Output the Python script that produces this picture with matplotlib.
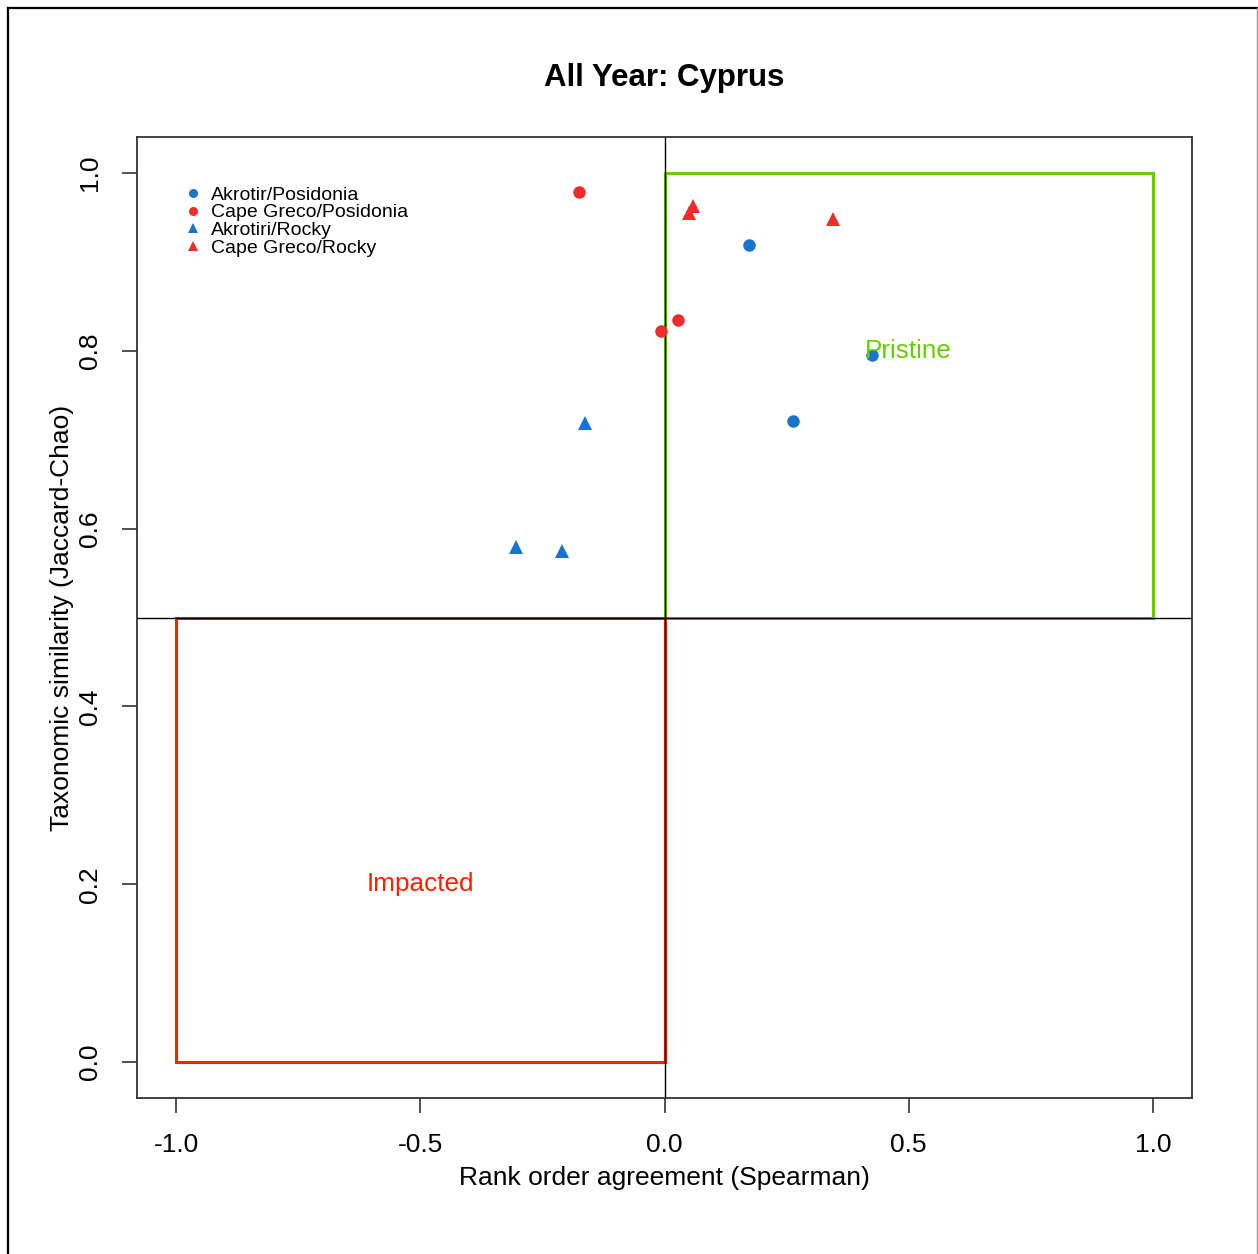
import numpy as np
import matplotlib
matplotlib.use("Agg")
import matplotlib.pyplot as plt
from matplotlib.lines import Line2D
from matplotlib.patches import Rectangle

plt.rcParams['font.family'] = ['Liberation Sans', 'DejaVu Sans']

# data
groups = ['Akrotir/Posidonia', 'Cape Greco/Posidonia', 'Akrotiri/Rocky', 'Cape Greco/Rocky']
group_colors = ['#1874CD', '#EE2C2C', '#1874CD', '#EE2C2C']
group_markers = ['o', 'o', '^', '^']

akrotir_pos_x = [0.173, 0.425, 0.263]
akrotir_pos_y = [0.919, 0.795, 0.721]
greco_pos_x = [-0.175, -0.007, 0.028]
greco_pos_y = [0.979, 0.822, 0.835]
akrotiri_rock_x = [-0.163, -0.304, -0.210]
akrotiri_rock_y = [0.719, 0.579, 0.575]
greco_rock_x = [0.058, 0.050, 0.345]
greco_rock_y = [0.963, 0.955, 0.948]

xs = [akrotir_pos_x, greco_pos_x, akrotiri_rock_x, greco_rock_x]
ys = [akrotir_pos_y, greco_pos_y, akrotiri_rock_y, greco_rock_y]

W, H = 1258, 1254
AX_L, AX_R, AX_T, AX_B = 137, 1192, 137, 1098
fig = plt.figure(figsize=(W / 100, H / 100), dpi=100)
ax = fig.add_axes([AX_L / W, 1 - AX_B / H, (AX_R - AX_L) / W, (AX_B - AX_T) / H])

# reference lines and regions
ax.axvline(0, color='black', lw=1.0)
ax.axhline(0.5, color='black', lw=1.0)
ax.add_patch(Rectangle((0, 0.5), 1, 0.5, fill=False, edgecolor='#66CD00', lw=2.2))
ax.add_patch(Rectangle((-1, 0), 1, 0.5, fill=False, edgecolor='#FF2000', lw=2.2))
ax.text(0.5, 0.8, 'Pristine', color='#66CD00', fontsize=18.8, ha='center', va='center')
ax.text(-0.5, 0.2, 'Impacted', color='#FF2000', fontsize=18.8, ha='center', va='center')

for x, y, c, m in zip(xs, ys, group_colors, group_markers):
    ms = 9 if m == 'o' else 10
    ax.plot(x, y, linestyle='none', marker=m, color=c, markersize=ms, markeredgewidth=0)

# legend, R style (no box, tight rows)
for i, (g, c, m) in enumerate(zip(groups, group_colors, group_markers)):
    yy = (AX_B - (193 + i * 17.7)) / (AX_B - AX_T)
    ax.plot([(193 - AX_L) / (AX_R - AX_L)], [yy], transform=ax.transAxes,
            linestyle='none', marker=m, color=c, markersize=6.5, markeredgewidth=0)
    ax.text((211 - AX_L) / (AX_R - AX_L), yy - 2 / (AX_B - AX_T), g, transform=ax.transAxes,
            fontsize=14, ha='left', va='center')

ax.set_xlim(-1.08, 1.08)
ax.set_ylim(-0.0405, 1.0405)
ax.set_xticks([-1.0, -0.5, 0.0, 0.5, 1.0])
ax.set_yticks([0.0, 0.2, 0.4, 0.6, 0.8, 1.0])
ax.set_xticklabels(['-1.0', '-0.5', '0.0', '0.5', '1.0'])
ax.set_yticklabels(['0.0', '0.2', '0.4', '0.6', '0.8', '1.0'], rotation=90, va='center')
ax.tick_params(direction='out', length=11, width=1.2, labelsize=19, pad=14, color='#333333')
for s in ax.spines.values():
    s.set_linewidth(1.3)
    s.set_color('#333333')

ax.set_xlabel('Rank order agreement (Spearman)', fontsize=19, labelpad=7)
ax.set_ylabel('Taxonomic similarity (Jaccard-Chao)', fontsize=19, labelpad=3)
fig.text(664 / W, 1 - 78 / H, 'All Year: Cyprus', fontsize=22.5, fontweight='bold',
         ha='center', va='center')

# outer frame of the screenshot
fig.add_artist(Line2D([8 / W, 8 / W], [0, 1 - 8 / H], color='black', lw=1.6,
                      transform=fig.transFigure))
fig.add_artist(Line2D([8 / W, 1257 / W], [1 - 8 / H, 1 - 8 / H], color='black', lw=1.6,
                      transform=fig.transFigure))
fig.add_artist(Line2D([1256.5 / W, 1256.5 / W], [0, 1 - 8 / H], color='#999999', lw=1.0,
                      transform=fig.transFigure))

fig.savefig('out.png', dpi=100)
